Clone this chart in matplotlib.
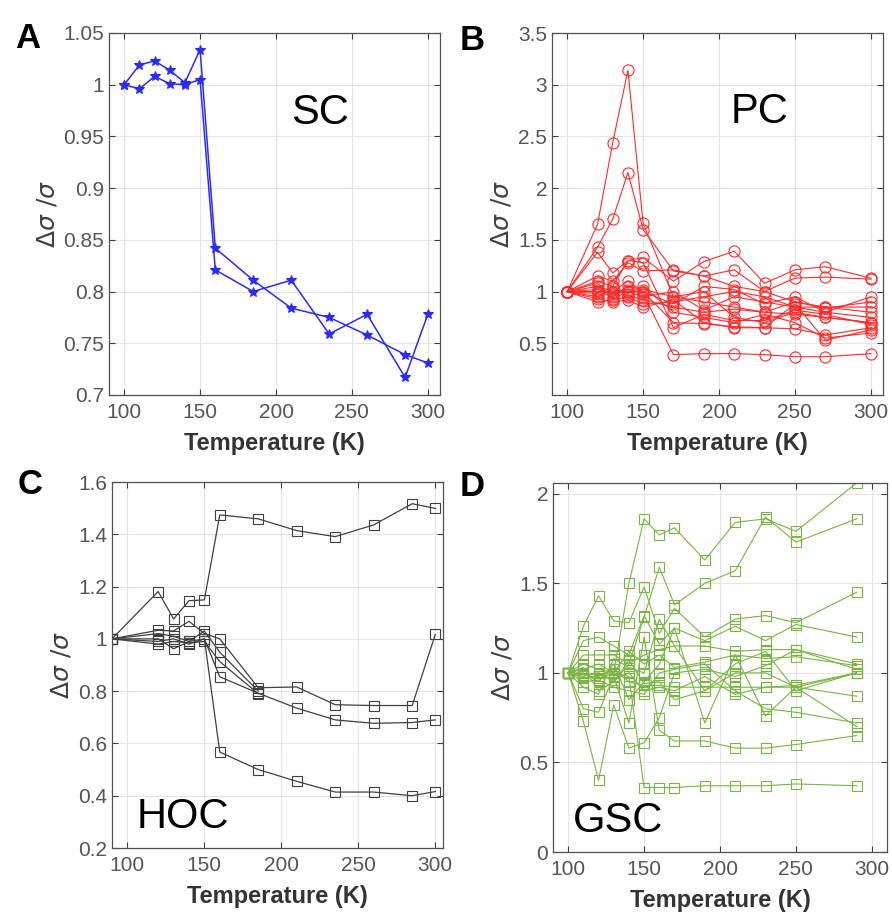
import numpy as np
import matplotlib
matplotlib.use('Agg')
import matplotlib.pyplot as plt

plt.rcParams['font.family'] = ['Liberation Sans', 'DejaVu Sans']
plt.rcParams['mathtext.fontset'] = 'dejavusans'

# ---- data ----
T_sc = [100, 110, 120, 130, 140, 150, 160, 185, 210, 235, 260, 285, 300]
sc_1 = [1.0, 1.019, 1.023, 1.014, 1.002, 1.034, 0.842, 0.811, 0.784, 0.775, 0.758, 0.739, 0.731]
sc_2 = [1.0, 0.996, 1.008, 1.001, 1.0, 1.005, 0.821, 0.800, 0.811, 0.759, 0.778, 0.717, 0.778]

T_pc = [100, 120, 130, 140, 150, 170, 190, 210, 230, 250, 270, 300]
pc_series = [
    [1, 1.65, 2.44, 3.14, 1.66, 0.95, 0.90, 0.85, 0.80, 0.78, 0.75, 0.70],
    [1, 1.43, 1.70, 2.15, 1.60, 1.20, 1.15, 1.05, 1.00, 0.90, 0.85, 0.80],
    [1, 1.38, 1.18, 1.30, 1.33, 1.10, 1.29, 1.39, 1.08, 1.21, 1.24, 1.13],
    [1, 1.15, 1.10, 1.28, 1.20, 1.21, 1.15, 1.21, 1.00, 1.13, 1.14, 1.12],
    [1, 1.05, 1.00, 1.02, 0.98, 0.39, 0.40, 0.40, 0.39, 0.37, 0.37, 0.40],
    [1, 1.02, 0.98, 1.00, 1.00, 0.70, 0.69, 0.66, 0.65, 0.64, 0.58, 0.65],
    [1, 0.95, 1.03, 0.96, 0.92, 0.85, 0.80, 0.83, 0.80, 0.90, 0.84, 0.90],
    [1, 0.90, 0.92, 0.95, 0.88, 0.90, 0.95, 1.00, 0.95, 0.85, 0.80, 0.75],
    [1, 1.00, 0.95, 1.05, 1.02, 0.95, 1.00, 0.75, 0.70, 0.80, 0.75, 0.70],
    [1, 0.98, 1.05, 0.98, 1.05, 0.80, 0.75, 0.70, 0.78, 0.70, 0.55, 0.60],
    [1, 1.08, 0.93, 1.00, 0.95, 1.00, 0.82, 0.95, 0.90, 0.85, 0.85, 0.85],
    [1, 1.00, 1.00, 1.10, 1.00, 0.88, 1.05, 1.02, 0.88, 0.95, 0.80, 0.95],
    [1, 1.10, 1.05, 1.30, 1.28, 0.65, 0.78, 0.72, 0.72, 0.82, 0.78, 0.68],
    [1, 0.93, 0.90, 0.92, 0.85, 0.92, 0.70, 0.65, 0.65, 0.88, 0.53, 0.63],
]

T_hoc = [90, 120, 130, 140, 150, 160, 185, 210, 235, 260, 285, 300]
hoc_series = [
    [1.0, 1.181, 1.076, 1.146, 1.149, 1.474, 1.459, 1.414, 1.391, 1.436, 1.517, 1.499],
    [1.0, 1.033, 1.03, 1.067, 1.02, 1.0, 0.813, 0.816, 0.748, 0.745, 0.745, 1.017],
    [1.0, 1.0, 0.962, 0.99, 1.0, 0.855, 0.792, 0.735, 0.69, 0.677, 0.68, 0.69],
    [1.0, 0.99, 1.0, 0.98, 1.0, 0.567, 0.50, 0.455, 0.414, 0.414, 0.40, 0.416],
    [1.0, 1.02, 1.01, 0.99, 1.03, 0.949, 0.80, np.nan, np.nan, np.nan, np.nan, np.nan],
    [1.0, 0.98, 0.99, 0.985, 0.99, 0.913, 0.79, np.nan, np.nan, np.nan, np.nan, np.nan],
]

T_gsc = [100, 110, 120, 130, 140, 150, 160, 170, 190, 210, 230, 250, 290]
gsc_series = [
    [1, 1.05, 1.02, 1.00, 1.50, 1.86, 1.77, 1.81, 1.63, 1.84, 1.86, 1.79, 2.06],
    [1, 0.98, 1.00, 0.95, 1.05, 1.31, 1.59, 1.38, 1.50, 1.57, 1.87, 1.73, 1.86],
    [1, 1.26, 1.43, 1.29, 1.28, 1.48, 1.22, 1.36, 1.20, 1.30, 1.32, 1.28, 1.45],
    [1, 1.18, 1.20, 1.15, 1.10, 1.32, 1.16, 1.25, 1.18, 1.26, 1.18, 1.27, 1.20],
    [1, 1.10, 1.10, 1.10, 1.05, 1.10, 1.13, 1.15, 1.15, 1.12, 1.13, 1.13, 1.05],
    [1, 1.02, 1.05, 1.00, 1.12, 1.05, 1.10, 1.03, 1.06, 1.10, 1.08, 1.09, 1.04],
    [1, 0.97, 0.98, 1.02, 0.95, 0.93, 0.93, 0.92, 0.92, 0.92, 0.92, 0.93, 1.00],
    [1, 0.99, 1.00, 0.96, 1.00, 0.90, 0.92, 0.90, 0.98, 0.88, 0.92, 0.92, 0.87],
    [1, 0.95, 0.96, 0.92, 0.90, 0.88, 1.00, 1.02, 1.05, 0.90, 0.80, 0.78, 0.72],
    [1, 1.00, 0.95, 1.05, 0.85, 0.95, 1.05, 1.25, 0.72, 1.10, 0.76, 0.92, 0.70],
    [1, 0.80, 0.78, 0.98, 0.72, 1.20, 0.68, 0.62, 0.62, 0.58, 0.58, 0.60, 0.65],
    [1, 0.99, 0.97, 1.00, 0.98, 0.36, 0.36, 0.36, 0.37, 0.37, 0.37, 0.38, 0.37],
    [1, 0.73, 0.40, 0.82, 0.58, 0.61, 0.75, 1.00, 1.02, 0.98, 1.04, 1.13, 1.02],
    [1, 0.92, 0.88, 1.08, 1.03, 1.00, 1.30, 1.15, 0.90, 1.05, 1.12, 0.90, 1.00],
    [1, 1.03, 0.90, 0.95, 1.07, 0.94, 0.95, 0.85, 0.90, 1.00, 1.00, 0.92, 1.00],
]

W, H = 892, 921
fig = plt.figure(figsize=(W / 100, H / 100), dpi=100)


def box(l, t, r, b):
    return [l / W, 1 - b / H, (r - l) / W, (b - t) / H]


def style(ax, xlim, ylim, yticks, ylabels):
    ax.set_xlim(*xlim)
    ax.set_ylim(*ylim)
    ax.set_xticks([100, 150, 200, 250, 300])
    ax.set_yticks(yticks)
    ax.set_yticklabels(ylabels)
    ax.grid(True, color='#e4e4e4', linewidth=0.8)
    ax.set_axisbelow(True)
    ax.tick_params(direction='in', top=True, right=True, length=4, width=0.8,
                   colors='#404040', labelsize=15, labelcolor='#555555')
    ax.tick_params(axis='x', pad=6)
    for s in ax.spines.values():
        s.set_color('#505050')
        s.set_linewidth(0.9)
    ax.set_xlabel('Temperature (K)', fontsize=17, fontweight='bold', color='#333333', labelpad=7)
    ax.set_ylabel(r'$\Delta\sigma\ /\sigma$', fontsize=18, color='#404040', labelpad=3)


# A
axA = fig.add_axes(box(109, 33, 440, 395))
for s in [sc_1, sc_2]:
    axA.plot(T_sc, s, '-*', color='#2a2aff', lw=1.1, ms=7, mew=0.8)
style(axA, (90, 308), (0.7, 1.05), [0.7, 0.75, 0.8, 0.85, 0.9, 0.95, 1.0, 1.05],
      ['0.7', '0.75', '0.8', '0.85', '0.9', '0.95', '1', '1.05'])

# B
axB = fig.add_axes(box(552, 33, 883, 395))
for s in pc_series:
    axB.plot(T_pc, s, '-o', color='#ff2a2a', lw=0.8, ms=8, mfc='none', mew=0.8)
style(axB, (90, 308), (0, 3.5), [0.5, 1, 1.5, 2, 2.5, 3, 3.5],
      ['0.5', '1', '1.5', '2', '2.5', '3', '3.5'])

# C
axC = fig.add_axes(box(112, 482, 443, 848))
for s in hoc_series:
    axC.plot(T_hoc, s, '-s', color='#404040', lw=0.9, ms=7, mfc='none', mew=0.8)
style(axC, (90, 305), (0.2, 1.6), [0.2, 0.4, 0.6, 0.8, 1.0, 1.2, 1.4, 1.6],
      ['0.2', '0.4', '0.6', '0.8', '1', '1.2', '1.4', '1.6'])

# D
axD = fig.add_axes(box(553, 483, 887, 852))
for s in gsc_series:
    axD.plot(T_gsc, s, '-s', color='#7ab443', lw=0.8, ms=6.5, mfc='none', mew=0.8)
style(axD, (90, 310), (0, 2.06), [0, 0.5, 1, 1.5, 2], ['0', '0.5', '1', '1.5', '2'])


def ftext(x, y, s, **kw):
    fig.text(x / W, 1 - y / H, s, ha='center', va='center', **kw)


ftext(28, 38, 'A', fontsize=25, fontweight='bold')
ftext(472, 40, 'B', fontsize=25, fontweight='bold')
ftext(30, 484, 'C', fontsize=25, fontweight='bold')
ftext(472, 486, 'D', fontsize=25, fontweight='bold')

ftext(320, 113, 'SC', fontsize=30)
ftext(760, 112, 'PC', fontsize=30)
ftext(183, 817, 'HOC', fontsize=30)
ftext(618, 821, 'GSC', fontsize=30)

fig.savefig('out.png', dpi=100)
